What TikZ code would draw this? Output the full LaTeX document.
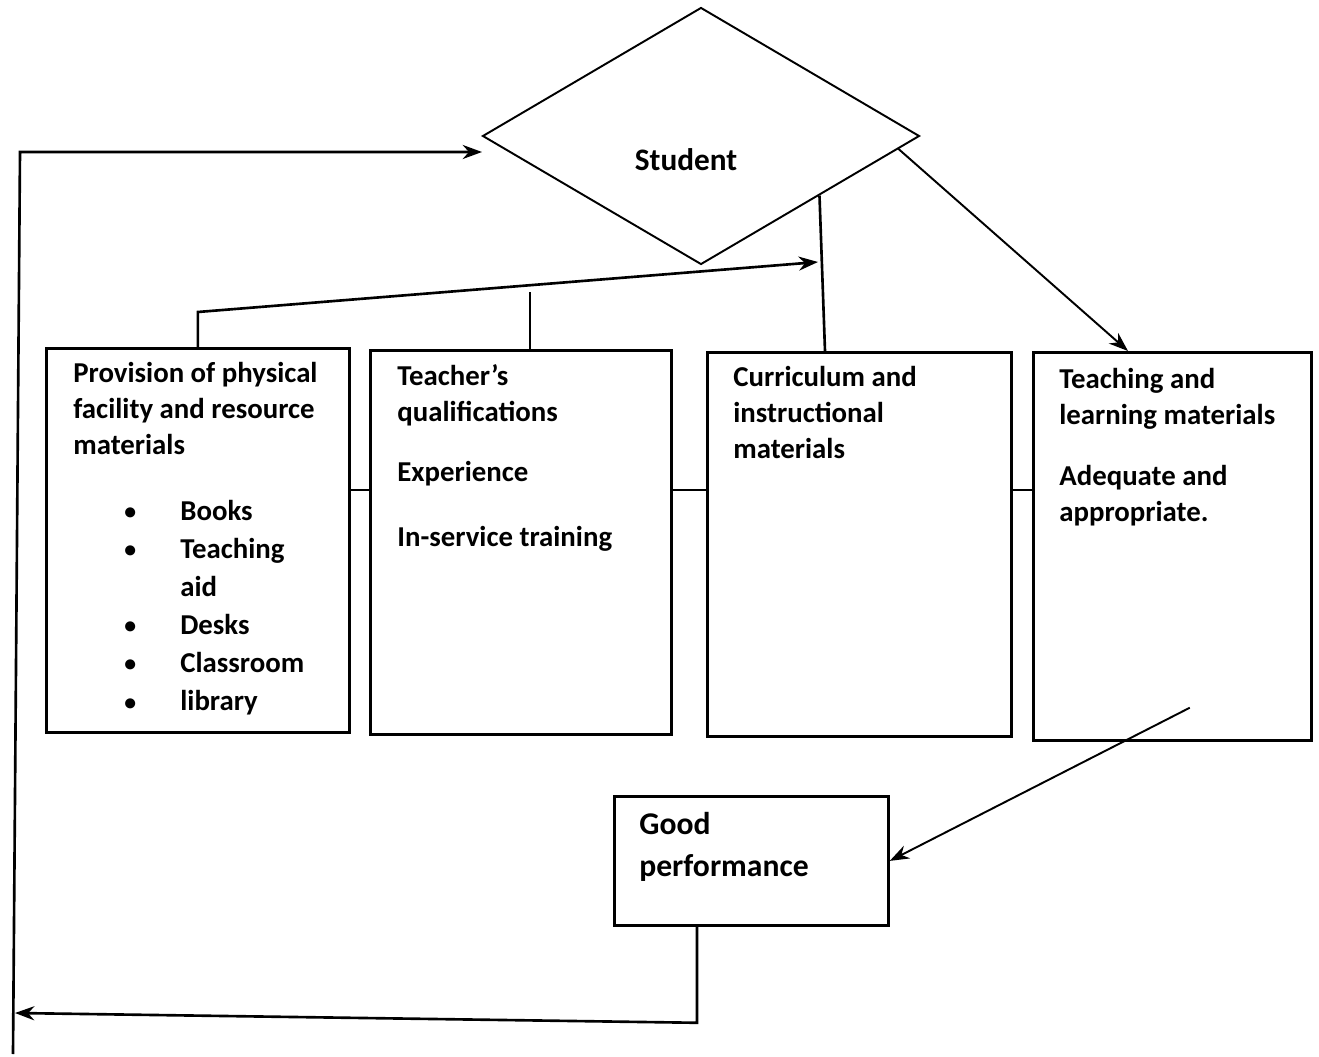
\documentclass[tikz,border=0pt]{standalone}
\usepackage{fontspec}
\setmainfont{Carlito}
\usetikzlibrary{shapes.geometric,calc,arrows.meta}
\newcommand{\itembul}{\raisebox{0.5pt}{\fontsize{13.5}{13.5}\selectfont\textbullet}}
\begin{document}
\begin{tikzpicture}[x=0.02cm,y=-0.02cm,>={Stealth[length=11pt,width=8pt]},
    box/.style={draw,line width=1.6pt,inner sep=0pt,anchor=north west},
    txt/.style={anchor=north west,inner sep=0pt,align=left,font=\fontsize{16.4}{20.5}\selectfont\bfseries},
    link/.style={line width=1.5pt},
    thinlink/.style={line width=1.1pt}]
    \useasboundingbox (0,0) rectangle (1319,1057);

    % Student diamond
    \node[diamond,draw,line width=1.1pt,inner sep=0pt,minimum width=8.74cm,minimum height=5.14cm] (stu) at (701,136) {};
    \node[font=\fontsize{17.8}{21}\selectfont\bfseries] (stulbl) at (686,160) {Student};

    % Factor boxes
    \node[box,minimum width=6.06cm,minimum height=7.68cm] (b1) at (45,347) {};
    \node[box,minimum width=6.02cm,minimum height=7.68cm] (b2) at (369,349) {};
    \node[box,minimum width=6.08cm,minimum height=7.68cm] (b3) at (706,351) {};
    \node[box,minimum width=5.56cm,minimum height=7.76cm] (b4) at (1032,351) {};
    \node[box,minimum width=5.48cm,minimum height=2.58cm] (gp) at (613,795) {};

    % Box texts
    \node[txt] (t1) at ([shift={(28,15)}]b1.north west) {Provision of physical\\facility and resource\\materials};
    \node[txt] (items) at ([shift={(79,146)}]b1.north west) {\renewcommand{\arraystretch}{1.06}%
      \begin{tabular}{@{}p{1.12cm}@{}l@{}}
        \itembul & Books\\
        \itembul & Teaching\\
                 & aid\\
        \itembul & Desks\\
        \itembul & Classroom\\
        \itembul & library
      \end{tabular}};
    \node[txt] (t2) at ([shift={(28,15)}]b2.north west) {Teacher’s\\qualifications\\[14pt]Experience\\[16pt]In-service training};
    \node[txt] (t3) at ([shift={(27,15)}]b3.north west) {Curriculum and\\instructional\\materials};
    \node[txt] (t4) at ([shift={(27,17)}]b4.north west) {Teaching and\\learning materials\\[14pt]Adequate and\\appropriate.};
    \node[txt,font=\fontsize{18}{24}\selectfont\bfseries] (gptxt) at ([shift={(26,17)}]gp.north west) {Good\\performance};

    % Side links between boxes
    \coordinate (mid) at (0,490);
    \draw[thinlink] (b1.east |- mid) -- (b2.west |- mid);
    \draw[thinlink] (b2.east |- mid) -- (b3.west |- mid);
    \draw[thinlink] (b3.east |- mid) -- (b4.west |- mid);

    % Links up to the student
    \coordinate (merge) at (818,262);
    \coordinate (b2up) at ($(b2.north west)+(161,0)$);
    \coordinate (b3up) at ($(b3.north west)+(119,0)$);
    \coordinate (stuhit) at ($(stu.south)!0.54!(stu.east)$);
    \draw[link,->] (b1.north) -- ++(0,-35) -- (merge);
    \draw[link] (b2up) -- ++(0,-57);
    \draw[link] (b3up) -- (stuhit);

    % Student to materials, materials to performance
    \coordinate (stuout) at ($(stu.east)!0.1!(stu.south)$);
    \coordinate (b4in) at ($(b4.north west)+(96,0)$);
    \coordinate (b4out) at ($(b4.south east)+(-123,-34)$);
    \draw[thinlink,->] (stuout) -- (b4in);
    \draw[thinlink,->] (b4out) -- (gp.east);

    % Feedback loop
    \coordinate (loopbot) at (13,1054);
    \coordinate (looptop) at (20,152);
    \coordinate (stuin) at (482,152);
    \coordinate (gpout) at ($(gp.south west)+(84,0)$);
    \draw[link,->] (loopbot) -- (looptop) -- (stuin);
    \draw[link,->] (gpout) -- ++(0,96) -- (15,1013);
\end{tikzpicture}
\end{document}
